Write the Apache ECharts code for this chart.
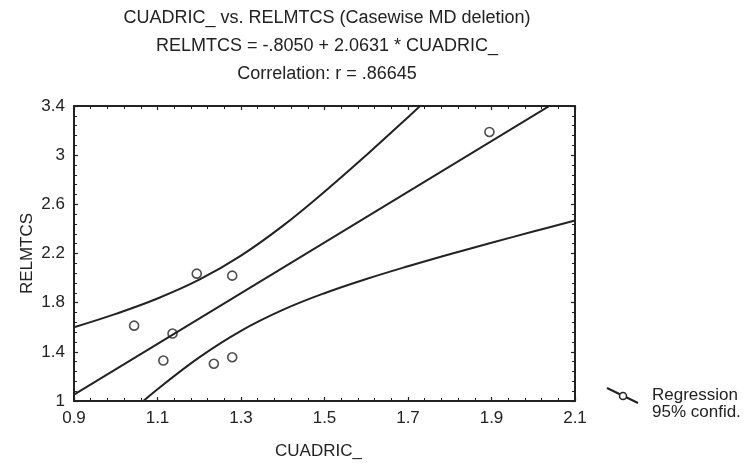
<!DOCTYPE html>
<html>
<head>
<meta charset="utf-8">
<script src="https://cdn.jsdelivr.net/npm/echarts@6/dist/echarts.min.js"></script>
<style>
  html, body { margin: 0; padding: 0; background: #fff; }
  #chart { width: 745px; height: 465px; }
</style>
</head>
<body>
<div id="chart"></div>
<script>
// observed cases
var cuadric = [1.044, 1.114, 1.136, 1.194, 1.235, 1.279, 1.279, 1.895];
var relmtcs = [1.613, 1.329, 1.549, 2.036, 1.303, 2.020, 1.356, 3.189];

// regression line end points (RELMTCS = -.8050 + 2.0631 * CUADRIC_)
var regX = [0.9, 2.1];
var regY = [1.052, 3.527];

// 95% confidence band, read along the x axis
var bandX = [0.9, 1.0, 1.1, 1.2, 1.3, 1.4, 1.5, 1.6, 1.7, 1.8, 1.9, 2.0, 2.1];
var upperBand = [1.600, 1.709, 1.834, 1.987, 2.183, 2.425, 2.703, 3.000, 3.309, 3.624];
var lowerBand = [0.504, 0.807, 1.095, 1.355, 1.571, 1.741, 1.877, 1.992, 2.096, 2.194, 2.287, 2.379, 2.468];

var titleLines = [
    'CUADRIC_ vs. RELMTCS (Casewise MD deletion)',
    'RELMTCS = -.8050 + 2.0631 * CUADRIC_',
    'Correlation: r = .86645'
];
var legendLines = ['Regression', '95% confid.'];

function pairs(xs, ys) {
    return ys.map(function (y, i) { return [xs[i], y]; });
}

var ink = '#222';
var font = '"Liberation Sans", Arial, sans-serif';

var myChart = echarts.init(document.getElementById('chart'));

var frameAxis = {
    axisLine: { show: true, onZero: false, lineStyle: { color: ink, width: 2 } },
    axisTick: { show: true, inside: true, length: 4, lineStyle: { color: ink, width: 1.2 } },
    minorTick: { show: true, splitNumber: 5, length: 3, lineStyle: { color: ink, width: 1 } },
    splitLine: { show: false }
};

option = {
    backgroundColor: '#fff',
    animation: false,
    grid: { left: 74, right: 170, top: 106, bottom: 60 },
    xAxis: [
        echarts.util.merge({
            type: 'value', min: 0.9, max: 2.1, interval: 0.2, position: 'bottom',
            name: 'CUADRIC_', nameLocation: 'middle', nameGap: 42,
            nameTextStyle: { color: ink, fontSize: 17, fontFamily: font, padding: [0, 12, 0, 0] },
            axisLabel: { color: ink, fontSize: 17, fontFamily: font, margin: 9 }
        }, frameAxis, true),
        echarts.util.merge({
            type: 'value', min: 0.9, max: 2.1, interval: 0.2, position: 'top',
            axisLabel: { show: false }
        }, frameAxis, true)
    ],
    yAxis: [
        echarts.util.merge({
            type: 'value', min: 1, max: 3.4, interval: 0.4, position: 'left',
            name: 'RELMTCS', nameLocation: 'middle', nameGap: 38, nameMoveOverlap: false,
            nameTextStyle: { color: ink, fontSize: 17, fontFamily: font },
            axisLabel: { color: ink, fontSize: 17, fontFamily: font, margin: 9 }
        }, frameAxis, true),
        echarts.util.merge({
            type: 'value', min: 1, max: 3.4, interval: 0.4, position: 'right',
            axisLabel: { show: false }
        }, frameAxis, true)
    ],
    graphic: titleLines.map(function (t, i) {
        return {
            type: 'text', x: 327, y: 18 + i * 28, silent: true,
            style: { text: t, fill: ink, font: '18px ' + font, textAlign: 'center', textVerticalAlign: 'middle' }
        };
    }).concat([
        { type: 'line', shape: { x1: 607, y1: 388, x2: 638, y2: 403 }, style: { stroke: ink, lineWidth: 2 } },
        { type: 'circle', shape: { cx: 623, cy: 396, r: 3.5 }, style: { fill: '#fff', stroke: ink, lineWidth: 1.5 } },
        { type: 'text', x: 652, y: 395, style: { text: legendLines[0], fill: ink, font: '17px ' + font, textVerticalAlign: 'middle' } },
        { type: 'text', x: 652, y: 412, style: { text: legendLines[1], fill: ink, font: '17px ' + font, textVerticalAlign: 'middle' } }
    ]),
    series: [
        {
            name: 'Regression', type: 'line', data: pairs(regX, regY),
            symbol: 'none', clip: true,
            lineStyle: { color: ink, width: 2 }
        },
        {
            name: 'Upper 95%', type: 'line', data: pairs(bandX, upperBand),
            symbol: 'none', smooth: 0.4, clip: true,
            lineStyle: { color: ink, width: 2 }
        },
        {
            name: 'Lower 95%', type: 'line', data: pairs(bandX, lowerBand),
            symbol: 'none', smooth: 0.4, clip: true,
            lineStyle: { color: ink, width: 2 }
        },
        {
            name: 'Cases', type: 'scatter', data: pairs(cuadric, relmtcs),
            symbol: 'circle', symbolSize: 9,
            itemStyle: { color: '#fff', borderColor: ink, borderWidth: 1.6 }
        }
    ]
};

myChart.setOption(option);
</script>
</body>
</html>
